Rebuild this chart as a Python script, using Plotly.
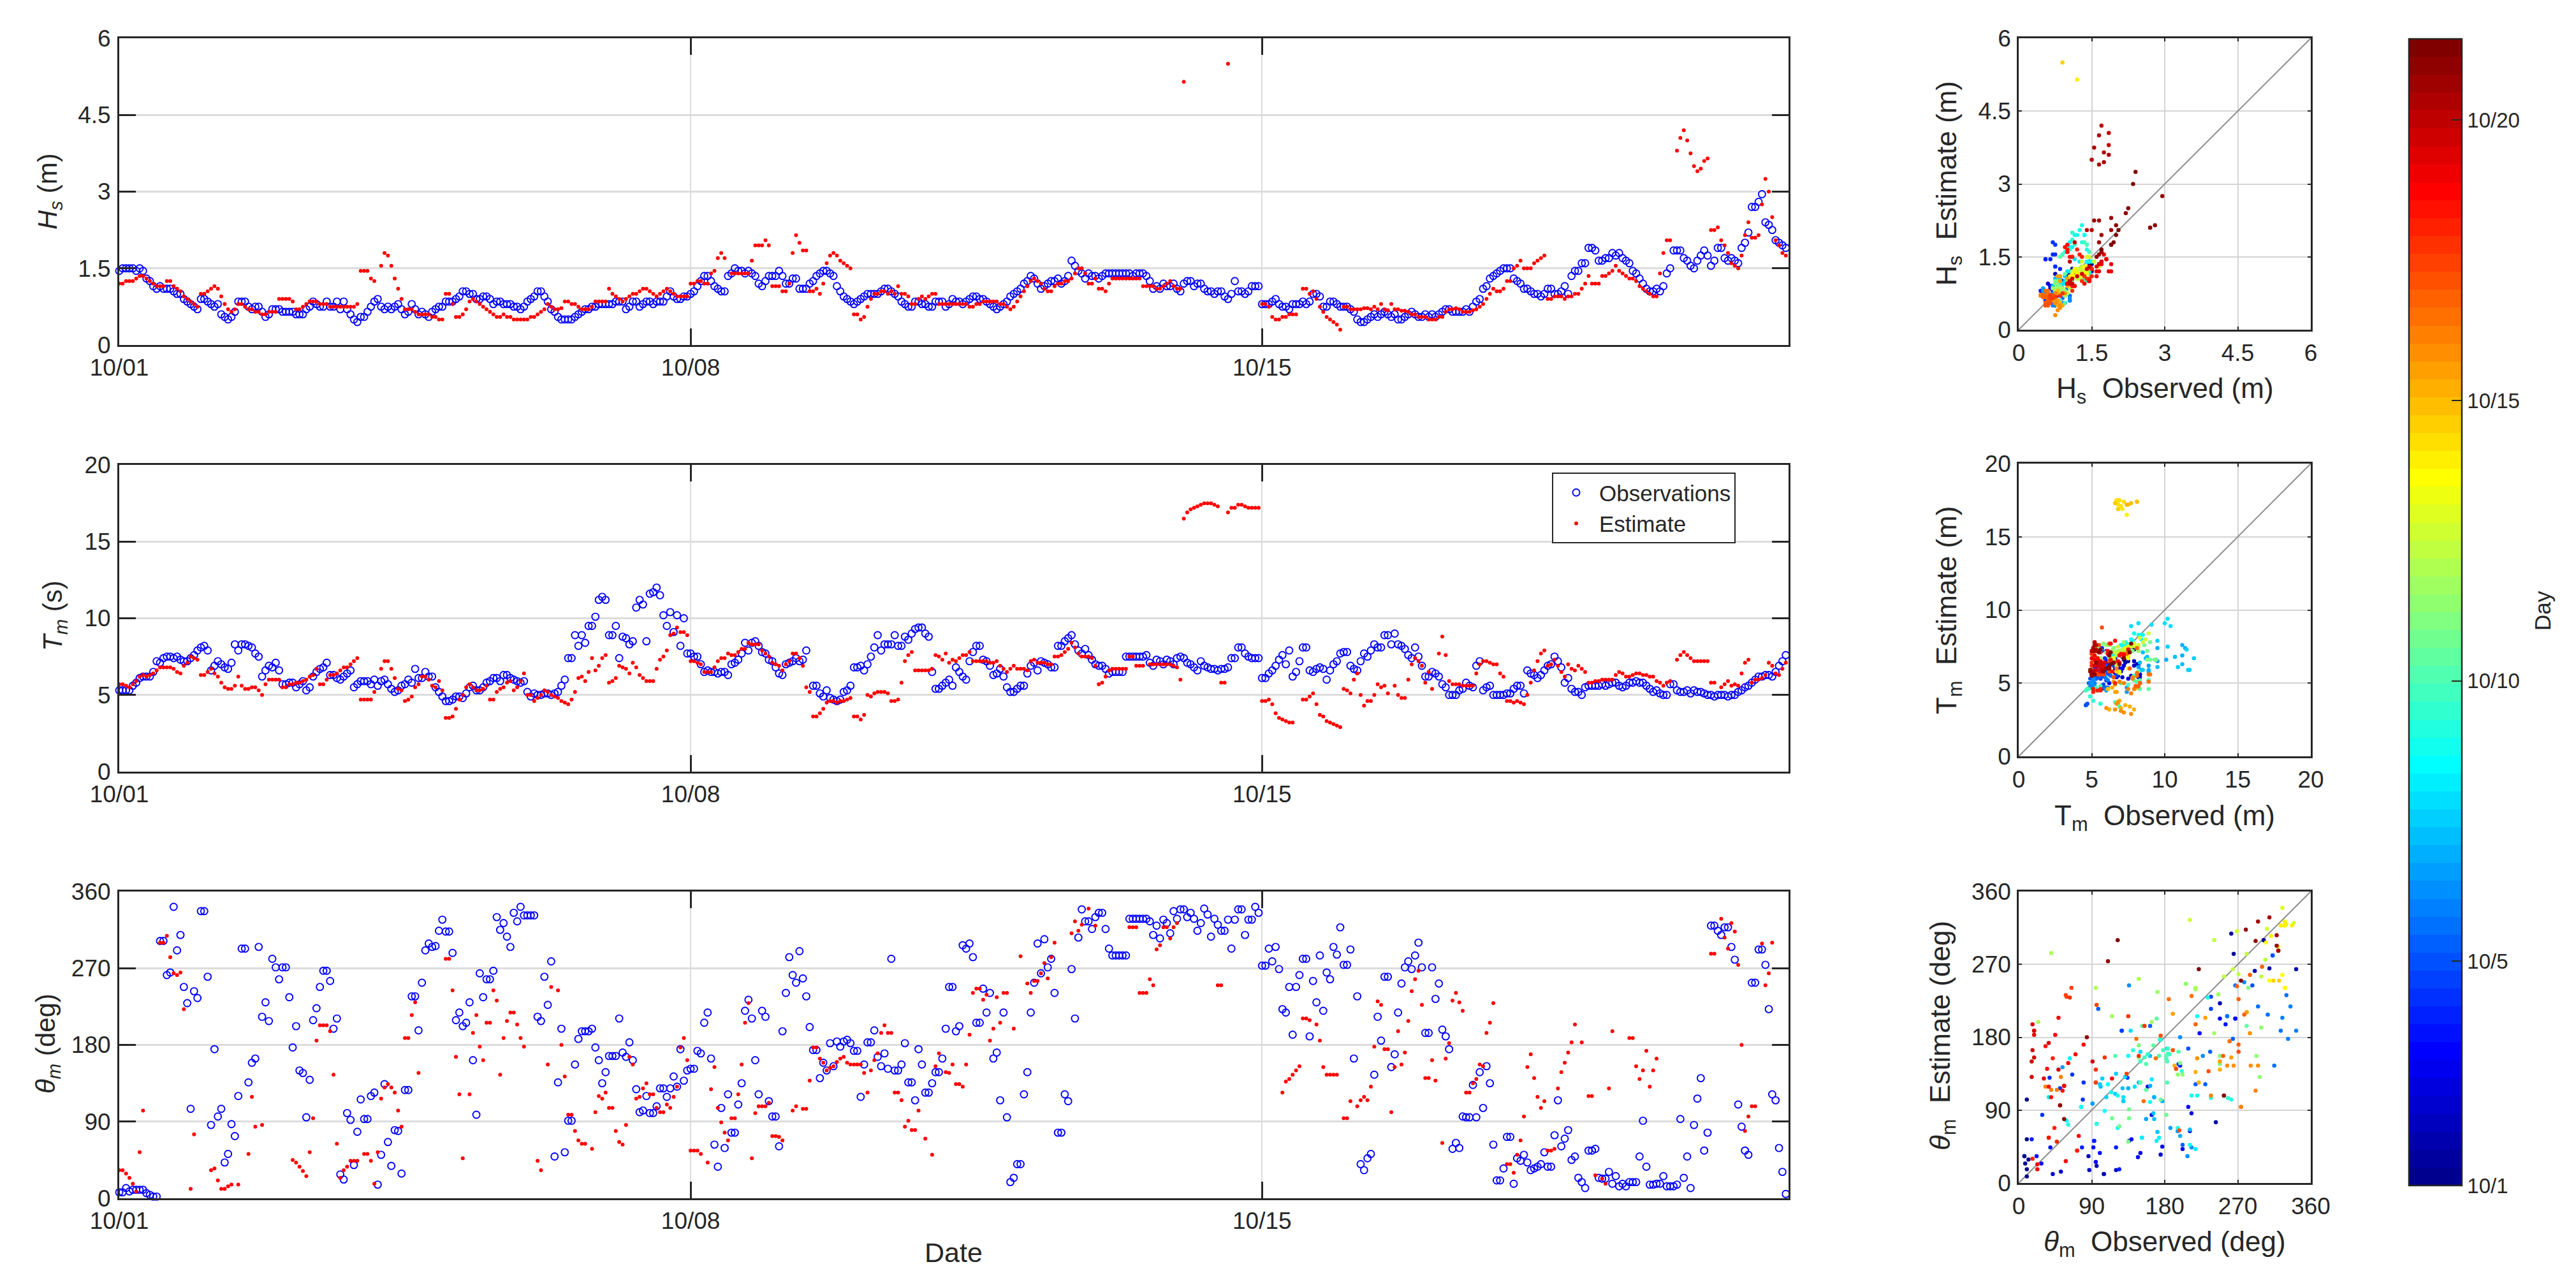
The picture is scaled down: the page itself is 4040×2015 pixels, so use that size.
import numpy as np
import plotly.graph_objects as go

N = None
W, H = 4040, 2015

# Hourly values, one row per day, starting 10/01 00:00
hs_obs = [
 [1.45,1.5,1.5,1.5,1.5,1.45,1.5,1.45,1.3,1.25,1.15,1.1,1.15,1.1,1.1,1.1,1.05,1.0,1.0,.9,.85,.8,.75,.7],
 [.9,.9,.85,.8,.75,.8,.6,.55,.5,.55,.65,.85,.85,.85,.75,.7,.75,.75,.65,.55,.6,.7,.7,.7],
 [.65,.65,.65,.65,.6,.6,.6,.7,.75,.85,.8,.75,.75,.85,.75,.75,.85,.7,.85,.7,.6,.5,.45,.55],
 [.55,.65,.75,.85,.9,.75,.7,.75,.7,.75,.8,.7,.6,.65,.8,.7,.6,.65,.6,.55,.65,.7,.75,.75],
 [.85,.85,.85,.9,.95,1.05,1.05,1.0,1.0,.9,.9,.95,.95,.9,.8,.85,.85,.8,.8,.8,.75,.75,.7,.75],
 [.85,.9,.95,1.05,1.05,.95,.85,.7,.65,.55,.5,.5,.5,.5,.55,.6,.65,.7,.7,.75,.75,.8,.8,.8],
 [.8,.8,.85,.85,.85,.7,.75,.85,.85,.75,.8,.85,.85,.8,.85,.85,.85,.95,1.05,.95,.9,.9,.95,.95],
 [1.0,1.05,1.15,1.25,1.35,1.35,1.25,1.15,1.1,1.05,1.05,1.35,1.4,1.5,1.45,1.45,1.4,1.45,1.4,1.35,1.2,1.15,1.25,1.35],
 [1.35,1.35,1.45,1.35,1.2,1.2,1.3,1.3,1.1,1.1,1.1,1.2,1.25,1.35,1.4,1.45,1.45,1.4,1.35,1.15,1.05,.95,.9,.85],
 [.8,.85,.9,.95,1.0,1.0,1.0,1.0,1.05,1.1,1.1,1.05,1.0,.95,.85,.8,.75,.75,.85,.85,.8,.8,.75,.75],
 [.85,.85,.85,.75,.8,.9,.85,.85,.8,.85,.9,.95,.95,.9,.9,.85,.8,.75,.7,.75,.8,.85,.95,1.0],
 [1.05,1.1,1.2,1.25,1.35,1.3,1.2,1.1,1.15,1.2,1.25,1.25,1.3,1.2,1.25,1.35,1.65,1.55,1.45,1.4,1.3,1.4,1.35,1.35],
 [1.3,1.35,1.4,1.4,1.4,1.4,1.4,1.4,1.4,1.4,1.35,1.4,1.4,1.4,1.35,1.25,1.1,1.15,1.1,1.2,1.15,1.15,1.2,1.1],
 [1.05,1.2,1.25,1.25,1.15,1.2,1.2,1.1,1.05,1.05,1.0,1.05,1.05,.95,.9,1.0,1.25,1.05,1.05,1.0,1.05,1.15,1.15,1.15],
 [.8,.8,.8,.85,.9,.8,.75,.75,.7,.8,.8,.8,.85,.8,.85,1.0,1.0,.95,.75,.75,.85,.85,.8,.75],
 [.75,.75,.7,.65,.5,.45,.45,.5,.55,.6,.55,.6,.65,.6,.55,.6,.5,.5,.55,.6,.65,.6,.55,.55],
 [.6,.55,.6,.55,.6,.65,.7,.7,.65,.65,.65,.65,.7,.65,.75,.85,.9,1.1,1.15,1.3,1.35,1.4,1.45,1.5],
 [1.5,1.5,1.3,1.25,1.2,1.1,1.1,1.05,1.0,1.0,.95,1.0,1.1,1.1,1.0,1.0,1.05,1.15,1.0,1.35,1.45,1.45,1.6,1.6],
 [1.9,1.9,1.85,1.65,1.65,1.7,1.7,1.8,1.75,1.8,1.7,1.65,1.6,1.45,1.4,1.3,1.2,1.1,1.05,1.05,1.1,1.05,1.15,1.4],
 [1.5,1.85,1.85,1.85,1.7,1.65,1.55,1.5,1.65,1.75,1.85,1.75,1.55,1.65,1.9,1.9,1.7,1.65,1.7,1.65,1.6,1.9,2.0,2.2],
 [2.7,2.7,2.8,2.95,2.4,2.35,2.25,2.05,2.0,1.95,1.9,1.7],
]
hs_est = [
 [1.2,1.2,1.25,1.25,1.25,1.3,1.35,1.35,1.3,1.25,1.2,1.15,1.15,1.15,1.25,1.25,1.15,1.1,1.05,.95,.9,.85,.8,.75],
 [1.0,1.0,1.05,1.1,1.15,1.1,.95,.8,.7,.65,.7,.8,.8,.75,.7,.7,.65,.65,.6,.6,.65,.65,.65,.9],
 [.9,.9,.9,.85,.7,.7,.75,.8,.85,.85,.85,.8,.8,.8,.75,.75,.75,.75,.75,.75,.75,.75,.8,1.45],
 [1.45,1.45,1.3,1.25,N,1.55,1.8,1.75,1.55,1.3,1.1,.9,.7,.7,.7,.65,.6,.6,.6,.6,.55,.55,.5,.5],
 [1.0,1.0,.8,.55,.55,.6,.7,.85,.9,.85,.8,.75,.7,.65,.6,.55,.55,.6,.55,.55,.5,.5,.5,.5],
 [.5,.55,.55,.6,.65,.7,.8,.75,.7,.7,.72,.85,.85,.8,.8,.75,.7,.7,.7,.75,.85,.85,.85,.85],
 [1.1,1.0,.95,.9,.85,.9,.95,1.0,1.0,1.05,1.1,1.1,1.05,1.0,.95,1.0,1.05,1.1,1.05,1.0,.95,.95,.95,.95],
 [1.2,1.2,1.25,1.25,1.2,1.2,1.4,1.45,1.7,1.8,1.7,N,1.4,1.4,1.4,1.4,1.4,1.4,1.65,1.95,1.95,1.95,2.05,1.95],
 [1.15,1.15,1.15,1.05,1.05,1.2,1.8,2.15,2.0,1.85,1.85,1.05,1.05,1.1,1.0,1.2,1.6,1.75,1.8,1.75,1.65,1.6,1.55,1.5],
 [.6,.6,.5,.55,.75,.9,1.0,1.0,1.05,1.05,1.0,1.05,1.0,1.15,1.0,1.0,.95,.8,.8,.9,.95,.9,.95,1.0],
 [1.0,.8,.8,.8,.8,.8,.8,.8,.8,.8,.75,.75,.8,.8,.85,.85,.85,.85,.85,.8,.8,.75,.7,.75],
 [.85,.95,1.05,1.15,1.25,1.3,1.25,1.2,1.1,1.05,1.05,1.15,1.2,1.2,1.25,1.25,1.3,1.4,1.5,1.5,1.4,1.2,1.2,1.3],
 [1.1,1.1,1.05,1.2,1.3,1.3,1.3,1.3,1.3,1.3,1.3,1.3,1.3,1.15,1.15,1.15,1.15,1.1,1.1,1.15,1.2,1.25,1.15,1.1],
 [1.1,5.15,N,N,N,N,N,N,N,N,N,N,N,N,5.5,N,N,N,N,N,N,N,N,N],
 [.8,.8,.75,.55,.5,.5,.55,.55,.6,.6,.6,N,1.1,1.1,1.0,1.05,.9,.75,.65,.55,.5,.45,.4,.3],
 [.75,.75,.7,.7,.7,.7,.72,.72,.7,.75,.7,.8,.7,.68,.8,.7,.7,.67,.67,.65,.6,.6,.55,.55],
 [.55,.5,.5,.5,.55,.55,.65,.7,.7,.72,.7,.65,.65,.65,.68,.7,.75,.8,.9,1.0,1.1,1.05,1.05,1.1],
 [1.25,1.25,1.5,1.55,1.65,1.5,1.5,1.5,1.6,1.65,1.7,1.75,.9,.9,.95,.95,.95,.9,.95,.95,1.0,1.0,1.1,1.2],
 [1.35,1.2,1.2,1.2,1.35,1.35,1.4,1.45,1.55,1.45,1.4,1.35,1.3,1.3,1.25,1.15,1.1,1.05,1.0,.95,.95,1.4,1.8,2.05],
 [2.05,N,3.8,4.05,4.2,4.0,3.75,3.5,3.4,3.45,3.6,3.65,2.25,2.25,2.3,2.05,1.95,1.8,1.6,1.55,1.5,1.75,2.15,2.4],
 [2.1,2.1,2.15,2.75,3.25,3.0,2.5,2.05,1.95,1.8,1.75,1.65],
]
tm_obs = [
 [5.3,5.3,5.3,5.3,5.6,5.8,6.1,6.2,6.2,6.2,6.5,7.2,7.1,7.4,7.5,7.5,7.4,7.5,7.3,7.2,7.2,7.4,7.6,7.9],
 [8.1,8.2,7.9,6.6,6.9,7.2,7.0,6.8,6.7,7.1,8.3,7.9,8.3,8.3,8.2,8.1,7.7,7.5,6.2,6.6,6.9,6.8,7.1,6.6],
 [5.7,5.7,5.8,5.8,5.5,5.7,5.9,5.3,5.5,6.2,6.5,6.7,6.8,7.1,6.3,6.3,6.1,6.0,6.2,6.4,6.6,5.5,5.7,5.9],
 [5.9,5.9,5.7,6.0,5.6,5.9,6.0,5.7,5.4,5.2,5.3,5.6,5.7,6.0,5.8,6.7,6.1,6.1,6.5,6.2,6.2,5.5,5.2,4.9],
 [4.6,4.6,4.7,4.9,4.9,4.8,5.1,5.5,5.6,5.3,5.3,5.5,5.8,5.9,6.1,6.1,5.9,6.3,6.3,6.1,6.0,5.9,5.8,5.9],
 [5.2,4.9,5.1,5.0,5.0,5.1,5.1,5.0,5.1,5.2,5.6,6.0,7.4,7.4,8.9,8.2,8.9,8.4,9.5,9.5,10.1,11.2,11.4,11.2],
 [8.9,8.9,9.5,7.4,8.8,8.7,8.3,8.5,10.7,11.2,10.9,8.5,11.6,11.7,12.0,11.5,10.2,9.5,10.4,9.1,10.2,8.2,10.0,7.7],
 [7.7,7.5,7.5,7.0,6.5,6.6,6.5,6.5,6.4,6.5,6.5,6.3,7.0,7.1,7.3,7.7,8.4,7.9,8.4,8.5,8.2,7.8,7.7,7.3],
 [7.2,6.8,6.4,6.3,7.0,7.1,7.2,7.4,7.2,7.3,7.9,N,5.6,5.6,5.1,4.9,5.3,4.8,4.7,4.6,4.7,5.2,5.3,5.6],
 [6.8,6.8,6.9,6.6,7.0,7.5,8.1,8.9,7.9,8.3,8.3,8.3,8.9,8.2,8.2,8.8,8.6,9.0,9.3,9.4,9.4,9.0,8.8,6.5],
 [5.4,5.4,5.6,5.8,6.0,5.6,6.8,6.5,6.2,6.0,7.2,7.8,8.2,8.2,7.3,7.2,6.9,6.3,6.4,6.7,6.2,5.5,5.2,5.2],
 [5.4,5.6,5.6,6.4,6.9,7.1,6.6,7.2,7.1,7.0,6.8,6.8,8.2,8.2,8.5,8.7,8.9,8.3,7.9,7.7,8.0,7.6,7.3,7.0],
 [6.9,6.9,6.7,6.4,6.5,6.5,6.5,6.5,7.5,7.5,7.5,7.5,7.5,7.5,7.6,7.1,6.9,7.3,7.2,7.0,7.3,7.2,7.0,7.4],
 [7.5,7.4,7.1,7.0,6.8,6.6,7.2,6.9,6.8,6.7,6.7,6.6,6.7,6.7,6.8,7.4,7.4,8.1,8.1,7.7,7.5,7.4,7.4,7.4],
 [6.1,6.1,6.4,6.6,6.9,7.3,7.6,7.0,7.9,6.2,6.5,7.2,8.1,8.1,6.6,6.5,6.7,6.8,6.7,6.0,6.6,7.0,7.2,7.7],
 [7.8,7.8,6.9,6.7,6.6,7.2,7.7,7.5,7.9,8.3,8.1,8.1,8.9,8.9,8.3,9.0,8.3,8.2,8.0,7.6,7.4,8.1,7.5,6.9],
 [6.2,6.2,6.5,6.4,6.2,5.7,5.5,5.0,5.0,5.0,5.3,5.4,5.8,5.6,5.5,6.9,7.2,5.3,5.5,5.6,5.0,5.0,5.0,5.0],
 [5.1,5.1,5.4,5.6,5.6,5.1,6.6,6.4,6.3,6.1,6.3,6.6,6.9,7.0,7.5,7.2,6.8,5.8,6.1,5.4,5.2,5.2,5.0,5.5],
 [5.6,5.6,5.6,5.6,5.7,5.6,5.7,5.8,5.8,5.6,5.5,5.6,5.8,5.8,5.9,5.8,5.8,5.6,5.4,5.2,5.3,5.1,5.0,5.0],
 [5.7,5.7,5.3,5.2,5.2,5.3,5.1,5.3,5.2,5.2,5.1,5.0,5.0,4.9,5.0,5.0,5.0,4.9,5.0,5.0,5.2,5.3,5.5,5.6],
 [5.8,6.0,6.2,6.2,6.3,6.3,6.2,6.5,6.9,7.2,7.6,7.7],
]
tm_est = [
 [5.7,5.7,5.6,5.5,5.7,5.9,6.2,6.3,6.2,6.3,6.4,6.6,6.8,6.8,6.8,6.8,6.7,6.5,6.4,6.9,7.1,7.5,7.4,7.3],
 [6.3,6.3,6.5,6.7,6.4,6.2,5.8,5.5,5.4,5.4,5.6,6.2,5.6,5.4,5.4,5.5,5.5,5.3,5.0,5.7,6.0,6.0,6.0,6.0],
 [5.5,5.5,5.7,5.7,5.8,5.8,5.9,6.0,6.2,6.3,6.7,5.7,5.7,6.0,6.3,6.3,6.4,6.6,6.8,6.8,7.0,7.2,7.4,4.7],
 [4.7,4.7,4.7,5.2,N,6.7,7.2,7.2,6.7,6.1,5.4,5.3,4.6,4.7,4.9,5.5,5.7,6.2,6.2,6.0,5.6,5.5,5.9,5.3],
 [3.5,3.5,3.6,4.1,4.7,5.0,5.5,5.7,5.5,5.3,5.3,5.4,5.6,4.7,4.7,5.2,5.4,5.5,5.8,5.9,5.3,5.5,5.9,6.4],
 [5.0,5.0,4.6,4.8,5.0,5.3,5.2,5.0,4.9,4.8,4.6,4.5,4.4,4.7,5.2,6.1,6.2,5.9,6.5,7.4,6.6,6.9,7.4,7.6],
 [5.8,5.9,6.1,6.9,6.8,6.7,6.4,7.1,6.8,6.3,6.1,5.9,5.9,5.9,6.7,7.3,7.5,7.9,8.9,9.0,9.4,9.1,9.1,8.9],
 [7.2,7.2,7.1,7.0,6.5,6.5,6.5,6.8,7.2,7.4,7.4,7.7,7.6,7.6,7.8,8.0,8.0,8.4,8.3,8.3,8.3,7.9,7.7,7.5],
 [7.1,7.0,6.9,6.6,7.0,7.2,7.7,7.7,7.4,6.9,5.5,5.2,3.6,3.6,3.8,4.1,4.5,4.6,4.6,4.5,4.6,4.6,4.7,4.8],
 [3.6,3.6,3.4,3.7,5.0,4.9,5.1,5.2,5.2,5.2,5.1,4.6,4.6,4.7,5.8,7.2,7.6,7.8,6.6,6.6,6.6,6.6,6.6,6.7],
 [7.6,7.5,7.3,7.7,7.1,7.3,7.2,7.4,7.6,7.6,7.8,7.2,7.2,7.2,7.2,7.2,7.1,7.1,7.2,6.9,6.7,6.5,6.7,6.9],
 [6.7,6.7,6.7,6.6,7.2,7.3,7.1,7.1,7.1,7.0,7.0,7.5,7.5,7.6,7.8,8.0,8.4,8.1,7.7,7.5,7.5,7.5,7.4,6.9],
 [5.7,5.8,6.2,6.6,6.7,6.7,6.7,6.7,6.7,7.5,7.5,6.9,6.9,6.9,N,7.0,7.0,7.0,7.0,7.0,7.0,7.0,6.9,6.8],
 [6.0,16.5,16.9,17.1,17.2,17.3,17.4,17.5,17.5,17.5,17.4,17.3,5.8,5.8,16.9,17.2,17.2,17.4,17.4,17.3,17.2,17.2,17.2,17.2],
 [4.6,4.6,4.7,4.4,3.8,3.5,3.4,3.3,3.2,3.2,N,N,4.7,4.7,4.9,5.1,4.4,3.7,3.6,3.3,3.2,3.1,3.0,2.9],
 [5.4,5.3,5.1,6.0,6.4,5.0,4.3,4.6,4.6,5.0,5.7,5.5,5.6,5.1,N,5.6,5.0,4.8,4.8,6.0,7.0,7.4,7.2,6.9],
 [5.8,6.5,5.4,N,7.7,8.8,7.6,5.9,5.7,5.7,5.7,5.6,5.6,5.6,5.6,6.4,7.0,7.2,7.2,7.1,7.0,7.0,6.4,6.2],
 [4.6,4.6,4.5,4.6,4.5,4.4,5.0,5.8,6.6,7.2,7.7,7.9,6.9,7.0,7.3,6.9,6.5,6.2,7.0,6.7,6.6,6.9,6.7,6.5],
 [5.8,5.8,5.9,5.9,6.0,6.0,6.0,6.0,6.3,6.5,6.4,6.2,6.2,6.3,6.4,6.4,6.3,6.3,6.2,6.2,5.9,5.8,5.6,5.8],
 [5.9,N,7.3,7.6,7.8,7.6,7.4,7.2,7.2,7.2,7.2,7.2,5.8,5.8,N,5.5,5.7,5.9,5.6,5.7,5.6,6.4,7.1,7.3],
 [5.8,6.0,6.0,6.1,6.3,7.1,6.9,6.4,6.3,6.7,7.1,7.7],
]
th_obs = [
 [7,7,12,8,10,10,10,10,6,4,2,2,302,302,262,265,342,291,309,248,229,105,243,235],
 [337,337,260,86,175,96,105,42,52,87,73,120,293,293,136,159,164,295,213,230,208,281,271,257],
 [271,271,236,177,202,150,147,95,139,209,223,248,267,267,255,199,211,28,22,100,92,39,78,116],
 [93,93,120,124,16,51,134,66,38,80,79,29,127,127,237,237,197,253,291,299,295,296,314,327],
 [313,313,288,209,218,202,206,230,162,98,264,236,257,257,267,330,315,323,307,295,335,325,342,332],
 [332,332,332,213,208,260,227,278,49,136,199,54,91,91,157,187,196,196,196,199,177,162,135,148],
 [167,167,167,211,171,166,183,162,128,101,103,120,100,100,108,129,129,119,129,143,131,175,138,150],
 [152,152,173,170,206,218,164,63,37,106,59,122,77,77,110,135,220,233,211,162,122,220,213,114],
 [96,96,61,196,241,283,262,253,290,258,237,201,174,174,141,159,150,182,155,184,178,184,186,182],
 [173,173,119,157,183,183,197,166,155,170,152,281,150,150,157,182,136,136,115,175,157,124,124,135],
 [148,148,164,199,248,248,196,202,297,293,299,283,206,206,246,218,241,164,171,115,218,95,19,24],
 [40,40,122,148,218,253,299,264,304,271,281,241,77,77,122,114,269,211,306,339,325,325,316,330],
 [335,335,316,293,285,285,285,285,285,328,328,328,328,328,328,325,309,320,305,327,323,311,337,328],
 [339,339,330,335,328,314,323,340,333,307,328,321,314,314,327,293,327,339,339,309,327,327,342,335],
 [273,273,293,278,295,269,222,218,248,192,248,262,281,281,190,255,230,285,220,265,257,295,286,318],
 [274,274,292,164,237,40,33,47,52,145,213,185,260,260,154,169,218,252,271,278,269,285,300,271],
 [194,194,271,234,252,198,190,175,58,65,59,96,95,95,133,95,148,106,155,135,63,21,21,35],
 [72,72,17,47,44,51,42,33,35,37,40,54,37,37,74,115,61,70,80,45,49,24,19,12],
 [56,56,58,24,23,23,31,17,26,14,17,14,19,19,19,49,91,37,16,16,17,17,26,14],
 [14,14,16,93,24,49,12,86,117,141,56,77,320,320,314,309,318,318,295,280,110,84,56,51],
 [253,253,292,292,274,222,122,115,59,31,5,16],
]
th_est = [
 [33,33,29,24,17,8,54,103,N,N,N,N,300,300,308,283,264,262,265,222,N,11,75,N],
 [N,N,N,33,35,21,11,11,14,16,N,16,N,N,52,119,84,N,86,N,N,N,N,N],
 [N,N,N,45,42,37,32,26,54,94,185,203,203,203,196,145,64,24,33,37,44,44,44,N],
 [52,52,44,17,54,117,130,134,130,124,103,84,188,188,215,230,147,N,N,N,N,N,N,N],
 [281,281,244,166,122,47,N,122,194,215,178,162,206,206,244,232,145,188,208,218,218,204,188,178],
 [N,N,N,44,33,N,157,248,N,244,180,143,98,98,79,68,64,64,N,58,101,120,117,124],
 [106,106,79,66,63,86,166,157,117,119,129,135,122,122,106,101,101,110,106,119,131,177,188,162],
 [56,56,56,52,N,42,128,154,106,89,77,68,94,94,122,157,206,229,47,100,108,108,108,112],
 [73,73,72,68,N,N,103,108,N,105,105,138,177,177,164,159,150,153,155,160,164,166,159,157],
 [157,157,157,147,124,150,162,170,194,203,194,194,124,124,115,84,91,80,80,103,N,70,N,51],
 [155,170,N,148,147,157,134,134,131,157,192,241,246,246,233,239,185,199,236,206,241,241,N,199],
 [N,284,N,252,241,255,255,264,276,258,283,300,N,N,N,N,311,325,314,321,N,340,N,320],
 [N,N,N,N,N,N,N,N,N,318,318,318,241,241,241,257,250,292,297,318,318,305,318,323],
 [N,N,N,N,N,N,N,N,N,N,N,250,250,N,N,N,N,N,N,N,N,N,N,N],
 [N,N,N,N,N,N,124,137,140,145,150,155,211,211,209,N,204,185,154,145,145,145,145,N],
 [94,94,114,N,108,115,119,115,131,178,231,227,175,175,101,154,196,157,171,208,243,257,267,227],
 [141,141,162,138,N,65,164,182,232,241,230,220,124,124,135,140,157,155,194,206,229,N,N,N],
 [40,40,30,51,68,96,154,169,141,119,106,114,56,56,58,129,148,159,171,183,204,N,183,N],
 [120,120,27,N,23,17,129,196,N,N,N,N,188,188,155,140,150,173,131,150,164,N,N,N],
 [N,N,N,N,N,N,N,N,N,N,N,N,287,287,N,328,306,293,323,313,274,180,79,96],
 [108,108,N,299,250,264,300,N,N,N,N,N],
]

date_ticks = [1, 8, 15]
date_labels = ["10/01", "10/08", "10/15"]
cbar_ticks = [1, 5, 10, 15, 20]
cbar_labels = ["10/1", "10/5", "10/10", "10/15", "10/20"]
T_END = 21.45

INK = "#262626"
FONT = "Liberation Sans"
GRID = "#dcdcdc"


def flat(rows):
    t, v = [], []
    for d, row in enumerate(rows):
        for k, val in enumerate(row):
            t.append(1 + d + k / 24)
            v.append(val)
    return t, v


def jet64():
    m, n = 64, 16
    u = np.r_[np.arange(1, n + 1) / n, np.ones(n - 1), np.arange(n, 0, -1) / n]
    g = n // 2 + np.arange(1, len(u) + 1)
    r, b = g + n, g - n
    J = np.zeros((m, 3))
    J[r[r <= m] - 1, 0] = u[r <= m]
    J[g[g <= m] - 1, 1] = u[g <= m]
    J[b[b >= 1] - 1, 2] = u[b >= 1]
    scale = []
    for i, c in enumerate(J):
        col = "rgb(%d,%d,%d)" % tuple(np.round(c * 255))
        scale += [[i / m, col], [(i + 1) / m, col]]
    return scale


def dom_x(a, b):
    return [a / W, b / W]


def dom_y(top, bot):
    return [1 - bot / H, 1 - top / H]


main_boxes = [(60, 541), (729, 1210), (1398, 1879)]
scat_boxes = [(60, 517), (727, 1186), (1398, 1855)]
MX = (187, 2805)
SX = (3166, 3624)
panels = [
    dict(obs=hs_obs, est=hs_est, top=6, ticks=[0, 1.5, 3, 4.5, 6]),
    dict(obs=tm_obs, est=tm_est, top=20, ticks=[0, 5, 10, 15, 20]),
    dict(obs=th_obs, est=th_est, top=360, ticks=[0, 90, 180, 270, 360]),
]

fig = go.Figure()
layout = {}


def axis(**kw):
    base = dict(showline=True, linecolor=INK, linewidth=3, mirror="ticks", ticks="inside",
                tickcolor=INK, showgrid=True, gridcolor=GRID, zeroline=False,
                tickfont=dict(family=FONT, size=37, color=INK), automargin=False)
    base.update(kw)
    return base


for i, p in enumerate(panels):
    mx, my = f"x{2*i+1}", f"y{2*i+1}"
    sx, sy = f"x{2*i+2}", f"y{2*i+2}"
    mxn, myn = f"xaxis{2*i+1}", f"yaxis{2*i+1}"
    sxn, syn = f"xaxis{2*i+2}", f"yaxis{2*i+2}"
    t, o = flat(p["obs"])
    t2, e = flat(p["est"])
    layout[mxn] = axis(domain=dom_x(*MX), anchor=my, range=[1, T_END], tickmode="array",
                       tickvals=date_ticks, ticktext=date_labels, ticklen=26, tickwidth=2.5,
                       gridwidth=1.5, ticklabelstandoff=1)
    layout[myn] = axis(domain=dom_y(*main_boxes[i]), anchor=mx, range=[0, p["top"]],
                       tickmode="array", tickvals=p["ticks"], ticklen=26, tickwidth=2.5,
                       gridwidth=2.5, ticklabelstandoff=3)
    layout[sxn] = axis(domain=dom_x(*SX), anchor=sy, range=[0, p["top"]], tickmode="array",
                       tickvals=p["ticks"], ticklen=5, tickwidth=2, linewidth=2.5,
                       gridwidth=2, gridcolor="#d4d4d4", ticklabelstandoff=2)
    layout[syn] = axis(domain=dom_y(*scat_boxes[i]), anchor=sx, range=[0, p["top"]], tickmode="array",
                       tickvals=p["ticks"], ticklen=5, tickwidth=2, linewidth=2.5,
                       gridwidth=2, gridcolor="#d4d4d4", ticklabelstandoff=2)
    fig.add_trace(go.Scatter(x=t, y=o, mode="markers", name="Observations", xaxis=mx, yaxis=my,
                             showlegend=i == 1, cliponaxis=False,
                             marker=dict(symbol="circle-open", size=11, color="#0000ff", line=dict(width=1.9))))
    fig.add_trace(go.Scatter(x=t2, y=e, mode="markers", name="Estimate", xaxis=mx, yaxis=my,
                             showlegend=i == 1, cliponaxis=False,
                             marker=dict(symbol="circle", size=6, color="#ff0000")))
    fig.add_trace(go.Scatter(x=p["ticks"][::4], y=p["ticks"][::4], mode="lines", xaxis=sx, yaxis=sy,
                             showlegend=False, line=dict(color="#8c8c8c", width=2)))
    pairs = [(a, b, c) for a, b, c in zip(o, e, t) if a is not None and b is not None]
    fig.add_trace(go.Scatter(x=[q[0] for q in pairs], y=[q[1] for q in pairs], mode="markers",
                             xaxis=sx, yaxis=sy, showlegend=False,
                             marker=dict(size=6.5, color=[q[2] for q in pairs], coloraxis="coloraxis")))

layout["coloraxis"] = dict(
    cmin=1, cmax=T_END, colorscale=jet64(),
    colorbar=dict(x=3778 / W, xanchor="left", xpad=0, y=1 - 61 / H, yanchor="top", ypad=0,
                  thickness=83, thicknessmode="pixels", len=(1859 - 61) / H, lenmode="fraction",
                  tickmode="array", tickvals=cbar_ticks, ticktext=cbar_labels, ticks="inside",
                  ticklen=17, tickwidth=2, tickcolor=INK, outlinecolor=INK, outlinewidth=2.5,
                  tickfont=dict(family=FONT, size=33, color=INK), ticklabelposition="outside"),
)

SP = "&nbsp;&nbsp;"
labels = [
    ("<i>H<sub>s</sub></i> (m)", 78, 300, 42, -90),
    ("<i>T<sub>m</sub></i> (s)", 85, 966, 42, -90),
    ("<i>θ<sub>m</sub></i> (deg)", 74, 1637, 42, -90),
    ("Date", 1495, 1964, 43, 0),
    ("H<sub>s</sub>" + SP + "Estimate (m)", 3056, 288, 44, -90),
    ("T<sub>m</sub>" + SP + "Estimate (m)", 3056, 957, 44, -90),
    ("<i>θ</i><sub>m</sub>" + SP + "Estimate (deg)", 3046, 1624, 44, -90),
    ("H<sub>s</sub>" + SP + "Observed (m)", 3395, 612, 44, 0),
    ("T<sub>m</sub>" + SP + "Observed (m)", 3395, 1282, 44, 0),
    ("<i>θ</i><sub>m</sub>" + SP + "Observed (deg)", 3395, 1950, 44, 0),
    ("Day", 3987, 958, 35, -90),
]
anns = [dict(text=s, x=x / W, y=1 - y / H, xref="paper", yref="paper", xanchor="center", yanchor="middle",
             showarrow=False, textangle=a, font=dict(family=FONT, size=sz, color=INK))
        for s, x, y, sz, a in labels]

fig.update_layout(
    width=W, height=H, margin=dict(l=0, r=0, t=0, b=0), paper_bgcolor="white", plot_bgcolor="white",
    annotations=anns,
    legend=dict(x=2434 / W, y=1 - 741 / H, xanchor="left", yanchor="top", bgcolor="white",
                bordercolor=INK, borderwidth=2, font=dict(family=FONT, size=35, color=INK),
                tracegroupgap=0, itemsizing="trace", itemwidth=62),
    **layout,
)
fig.write_html("out.html", config=dict(displayModeBar=False),
               post_script="document.body.style.margin='0';document.body.style.overflow='hidden';")
